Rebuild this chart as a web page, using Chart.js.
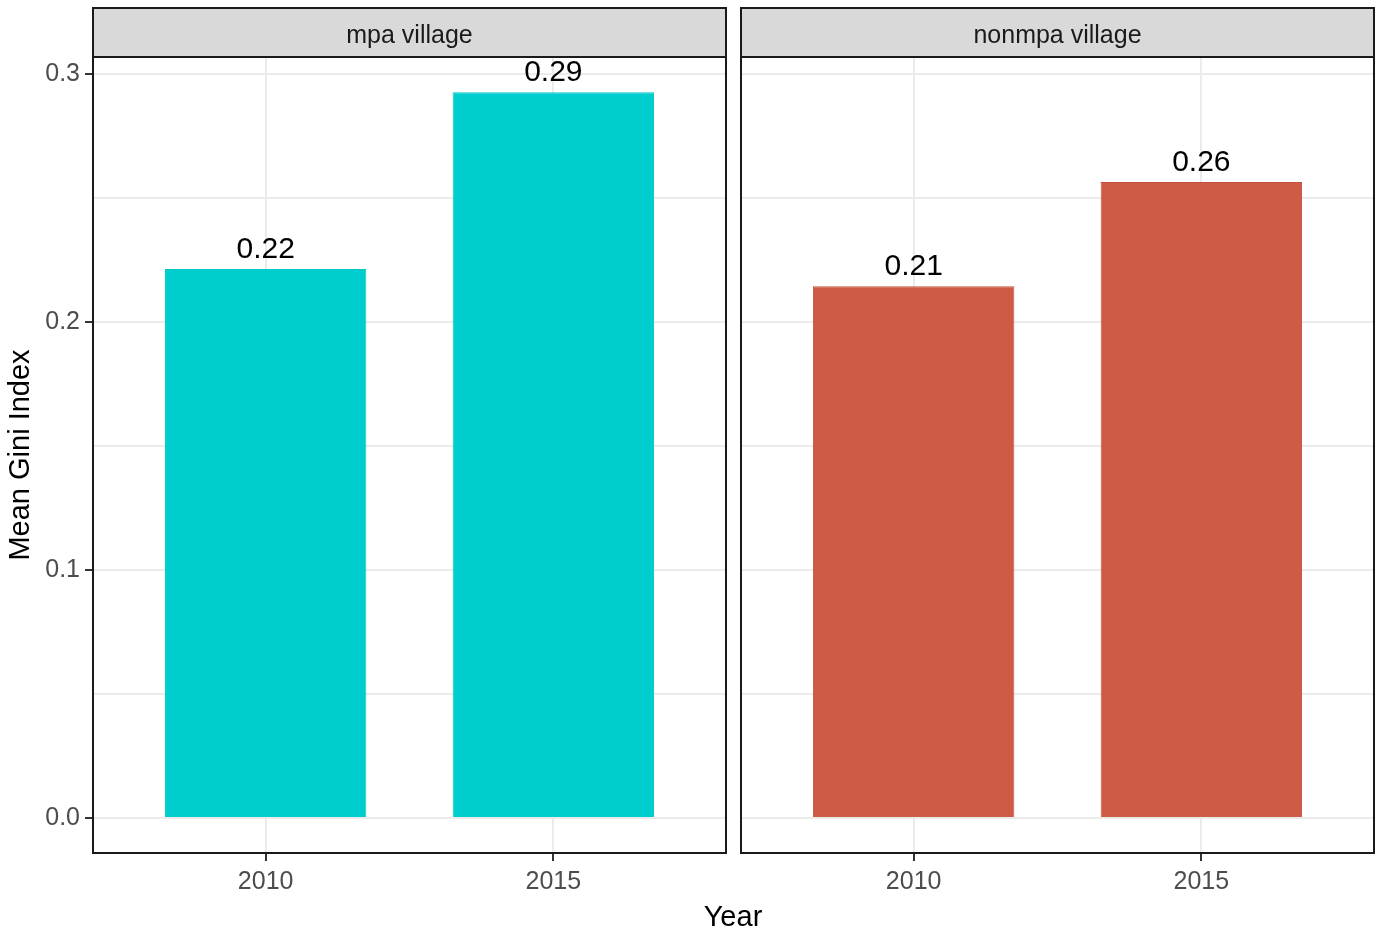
<!DOCTYPE html>
<html>
<head>
<meta charset="utf-8">
<script src="https://cdn.jsdelivr.net/npm/chart.js@4.4.1/dist/chart.umd.min.js"></script>
<style>
  body { margin: 0; background: #fff; }
  #wrap { position: relative; width: 1382px; height: 935px; font-family: "Liberation Sans", Arial, sans-serif; }
  #left { position: absolute; left: 0; top: 0; }
  #right { position: absolute; left: 733px; top: 0; }
  #xtitle { position: absolute; left: 0; width: 1466px; top: 899px; line-height: 34px; text-align: center; font-size: 29px; color: #000; }
</style>
</head>
<body>
<div id="wrap">
  <canvas id="left" width="733" height="935"></canvas>
  <canvas id="right" width="649" height="935"></canvas>
  <div id="xtitle">Year</div>
</div>
<script>
const years = ['2010', '2015'];
const panels = ['mpa village', 'nonmpa village'];
const mpaGini = [0.2214, 0.2927];
const nonmpaGini = [0.2145, 0.2565];
const yTicks = [0, 0.05, 0.1, 0.15, 0.2, 0.25, 0.3];

const FONT = '"Liberation Sans", Arial, sans-serif';
const isMajor = v => Math.abs(v * 10 - Math.round(v * 10)) < 1e-6;

// panel border + facet strip + value labels
const facetPlugin = {
  id: 'facet',
  afterDatasetsDraw(chart, args, opts) {
    const ctx = chart.ctx;
    const meta = chart.getDatasetMeta(0);
    ctx.save();
    ctx.fillStyle = '#000';
    ctx.font = '30px ' + FONT;
    ctx.textAlign = 'center';
    ctx.textBaseline = 'alphabetic';
    meta.data.forEach((bar, i) => {
      const v = chart.data.datasets[0].data[i].y;
      ctx.fillText(v.toFixed(2), bar.x, bar.y - 11);
    });
    ctx.restore();
  },
  afterDraw(chart, args, opts) {
    const ctx = chart.ctx;
    const a = chart.chartArea;
    ctx.save();
    ctx.fillStyle = '#D9D9D9';
    ctx.fillRect(a.left, 8, a.right - a.left, a.top - 8);
    ctx.strokeStyle = '#1a1a1a';
    ctx.lineWidth = 2;
    ctx.strokeRect(a.left, 8, a.right - a.left, a.top - 8);
    ctx.strokeRect(a.left, a.top, a.right - a.left, a.bottom - a.top);
    ctx.fillStyle = '#1a1a1a';
    ctx.font = '25px ' + FONT;
    ctx.textAlign = 'center';
    ctx.textBaseline = 'middle';
    ctx.fillText(opts.label, (a.left + a.right) / 2, 36);
    ctx.restore();
  }
};

function makePanel(id, label, values, color, edge, showY, pad) {
  new Chart(document.getElementById(id), {
    type: 'bar',
    data: {
      datasets: [{
        data: values.map((v, i) => ({ x: i + 1, y: v })),
        backgroundColor: color,
        borderColor: edge,
        borderWidth: 1,
        barPercentage: 0.7,
        categoryPercentage: 1
      }]
    },
    options: {
      responsive: false,
      animation: false,
      layout: { padding: pad },
      plugins: { legend: { display: false }, tooltip: { enabled: false }, facet: { label: label } },
      scales: {
        x: {
          type: 'linear',
          min: 0.4,
          max: 2.6,
          offset: false,
          afterBuildTicks: s => { s.ticks = years.map((_, i) => ({ value: i + 1 })); },
          afterFit: s => { s.height = 82; },
          border: { display: false },
          grid: { offset: false, color: '#EBEBEB', lineWidth: 2, tickColor: '#333', tickLength: 8, tickWidth: 2 },
          ticks: {
            padding: 6,
            color: '#4D4D4D',
            font: { size: 25, family: FONT },
            callback: v => years[Math.round(v) - 1]
          }
        },
        y: {
          min: -0.0141,
          max: 0.3069,
          afterBuildTicks: s => { s.ticks = yTicks.map(v => ({ value: v })); },
          afterFit: s => { s.width = showY ? 93 : 0; },
          border: { display: false },
          grid: {
            color: '#EBEBEB',
            lineWidth: 2,
            drawTicks: showY,
            tickColor: c => isMajor(c.tick.value) ? '#333' : 'rgba(0,0,0,0)',
            tickLength: 8,
            tickWidth: 2
          },
          ticks: {
            display: showY,
            padding: 5,
            color: '#4D4D4D',
            font: { size: 25, family: FONT },
            callback: v => isMajor(v) ? v.toFixed(1) : ''
          },
          title: {
            display: showY,
            text: 'Mean Gini Index',
            color: '#000',
            padding: { top: 4, bottom: 0 },
            font: { size: 29, family: FONT }
          }
        }
      }
    },
    plugins: [facetPlugin]
  });
}

makePanel('left', panels[0], mpaGini, '#00CDCD', '#00C8C8', true, { left: 0, right: 7, top: 57, bottom: 0 });
makePanel('right', panels[1], nonmpaGini, '#CD5B45', '#C4533D', false, { left: 8, right: 8, top: 57, bottom: 0 });
</script>
</body>
</html>
